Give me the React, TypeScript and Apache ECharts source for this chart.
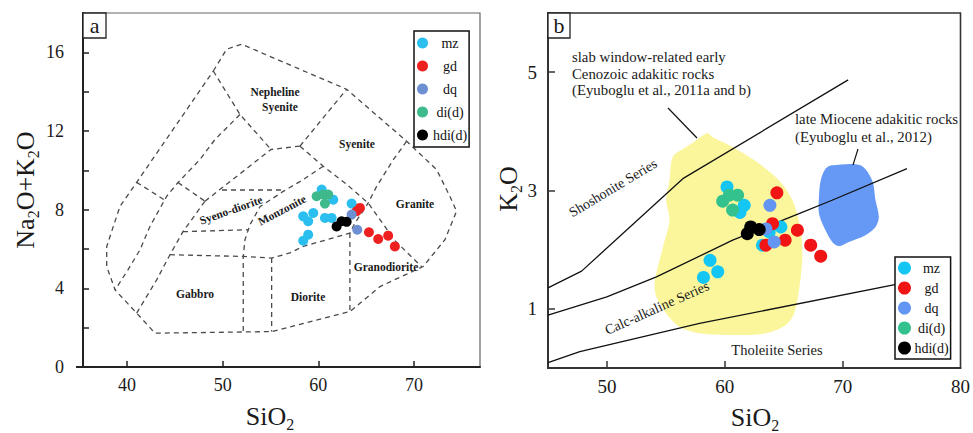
import React, { useEffect, useRef } from 'react';
import * as echarts from 'echarts';

const FONT = '"Liberation Serif", "Times New Roman", serif';
const SERIES_NAMES = ['mz', 'gd', 'dq', 'di(d)', 'hdi(d)'];

// ---------- Panel a (TAS) ----------
const aXTicks = [40, 50, 60, 70];
const aYTicks = [0, 2, 4, 6, 8, 10, 12, 14, 16];
const aYLabels = [0, 4, 8, 12, 16];

const aMz = [[60.35, 9.02], [61.56, 8.51], [59.47, 7.83], [58.42, 7.66], [58.94, 7.41], [60.69, 7.58], [61.39, 7.58], [63.48, 8.31], [58.94, 6.73], [58.42, 6.42]];
const aGd = [[64.0, 7.92], [64.35, 8.09], [65.29, 6.85], [66.26, 6.51], [67.3, 6.68], [68.0, 6.13]];
const aDq = [[63.48, 7.75], [64.07, 6.98]];
const aDi = [[59.82, 8.68], [60.51, 8.77], [61.03, 8.77], [60.69, 8.31]];
const aHdi = [[61.91, 7.15], [62.43, 7.41], [62.96, 7.38]];

const outerBoundary = [[49.02, 15.05], [50.42, 16.16], [51.99, 16.41], [62.96, 14.12], [69.23, 11.48], [72.36, 10.04], [73.75, 8.68], [74.45, 7.92], [73.23, 6.47], [70.96, 5.11], [66.44, 4.09], [63.3, 2.82], [55.12, 1.8], [42.93, 1.72], [41.01, 2.74], [38.75, 3.92], [37.88, 5.11], [37.88, 6.13], [38.57, 7.15], [39.27, 8.17], [41.01, 9.39], [49.02, 15.05]];
const innerLeftLine = [[51.81, 12.84], [49.2, 11.57], [47.63, 10.55], [45.33, 9.38], [44.15, 8.68], [42.4, 7.15], [41.36, 5.96], [40.1, 4.94], [38.75, 3.92]];
const shortLeftSeg = [[41.01, 9.39], [43.9, 8.5]];
const segE = [[45.33, 9.38], [48.15, 8.43]];
const sdLeft = [[41.01, 2.74], [43.1, 4.43], [44.49, 5.71], [45.85, 6.88], [48.15, 8.43]];
const sdTop = [[48.15, 8.43], [55.05, 11.06], [58.08, 11.23]];
const nsLeft = [[49.02, 15.05], [51.81, 12.84], [55.05, 11.06]];
const nsRight = [[58.08, 11.23], [62.96, 14.12]];
const syeniteBase = [[58.08, 11.23], [60.51, 10.21], [62.78, 9.36], [65.21, 8.34], [68.0, 6.43], [70.8, 5.1]];
const graniteLeft = [[69.23, 11.48], [67.84, 10.54], [66.1, 9.19], [65.21, 8.34]];
const sdHoriz = [[49.93, 9.0], [56.4, 9.0]];
const monzLeft = [[60.51, 10.21], [58.42, 9.53], [56.3, 8.92], [53.9, 8.15], [52.86, 7.24], [52.33, 6.47], [52.15, 5.61], [52.15, 1.78]];
const sdBottom = [[45.85, 6.88], [52.68, 6.98]];
const gabbroTop = [[44.49, 5.71], [52.15, 5.62], [55.12, 5.54], [57.03, 5.8], [58.42, 6.13], [63.3, 6.81], [63.8, 7.3], [65.21, 8.34]];
const dioriteMid = [[55.12, 5.54], [55.12, 1.8]];
const granodLeft = [[63.3, 6.81], [63.3, 2.82]];
const tasLines = [outerBoundary, innerLeftLine, shortLeftSeg, segE, sdLeft, sdTop, nsLeft, nsRight, syeniteBase, graniteLeft, sdHoriz, monzLeft, sdBottom, gabbroTop, dioriteMid, granodLeft];

// ---------- Panel b (K2O vs SiO2) ----------
const bXTicks = [50, 60, 70];
const bXLabels = [50, 60, 70, 80];
const bYTicks = [1, 3, 5];

const bMz = [[60.19, 3.06], [61.65, 2.75], [61.29, 2.63], [58.75, 1.82], [59.4, 1.625], [58.19, 1.53], [64.76, 2.385], [63.77, 2.3], [63.2, 2.076]];
const bGd = [[64.42, 2.96], [64.05, 2.44], [66.16, 2.33], [65.12, 2.16], [63.49, 2.076], [67.29, 2.076], [68.14, 1.89]];
const bDq = [[63.83, 2.75], [63.49, 2.35], [64.19, 2.13]];
const bDi = [[59.82, 2.82], [60.38, 2.92], [61.09, 2.92], [60.66, 2.67]];
const bHdi = [[61.91, 2.27], [62.2, 2.385], [62.92, 2.34]];

const shoshoniteLine = [[45, 1.355], [47.85, 1.637], [56.44, 3.2], [70.47, 4.87]];
const calcAlkLine = [[45, 0.895], [49.99, 1.203], [54.2, 1.54], [60.67, 2.16], [66.3, 2.61], [69.1, 2.835], [75.46, 3.37]];
const tholeiiteLine = [[45, 0.09], [47.7, 0.275], [57.86, 0.754], [75.5, 1.45]];

const yellowField = [[58.13, 3.93], [58.55, 3.97], [58.97, 3.9], [60.66, 3.735], [62.92, 3.455], [64.61, 3.17], [65.74, 2.835], [66.45, 2.33], [66.58, 1.88], [66.3, 1.32], [65.88, 0.92], [65.18, 0.726], [63.49, 0.586], [60.66, 0.557], [57.85, 0.586], [56.16, 0.697], [55.03, 0.923], [54.19, 1.203], [54.04, 1.43], [54.19, 1.6], [54.75, 2.047], [55.31, 2.5], [55.03, 2.835], [55.31, 3.17], [55.59, 3.566], [56.72, 3.735], [57.57, 3.85]];
const blueField = [[69.12, 3.426], [71.52, 3.426], [72.5, 3.173], [72.79, 2.835], [73.07, 2.554], [72.79, 2.385], [71.94, 2.245], [70.53, 2.13], [69.68, 2.06], [69.12, 2.13], [68.41, 2.385], [67.99, 2.61], [67.99, 2.89], [68.14, 3.173], [68.56, 3.37]];

const aColors: Record<string, string> = { mz: '#2BBFEF', gd: '#EE2020', dq: '#6E8FD2', 'di(d)': '#3DB98B', 'hdi(d)': '#000000' };
const bColors: Record<string, string> = { mz: '#14C6F4', gd: '#F01414', dq: '#6296F2', 'di(d)': '#33C28E', 'hdi(d)': '#000000' };

function scatter(name: string, data: number[][], idx: number, size: number, color: string) {
  return {
    type: 'scatter', name, data, xAxisIndex: idx, yAxisIndex: idx, symbolSize: size,
    itemStyle: { color, opacity: 1 }, z: 5, silent: true,
  };
}

function lineSeries(data: number[][], idx: number, dashed: boolean) {
  return {
    type: 'line', data, xAxisIndex: idx, yAxisIndex: idx, showSymbol: false, symbol: 'none', silent: true, z: 3,
    lineStyle: dashed ? { color: '#4a4a4a', width: 1.3, type: [5, 4] } : { color: '#111', width: 1.3 },
  };
}

function polygonSeries(points: number[][], fill: string) {
  return {
    type: 'custom', xAxisIndex: 1, yAxisIndex: 1, data: [[60, 3]], silent: true, z: 1,
    renderItem: (_p: any, api: any) => ({
      type: 'polygon',
      shape: { points: points.map((p) => api.coord(p)), smooth: 0.3 },
      style: { fill },
    }),
  };
}

function txt(x: number, y: number, text: string, fontSize: number, opts: any = {}) {
  return {
    type: 'text', x, y, rotation: opts.rotation || 0, z: 50,
    style: {
      text, fill: '#1a1a1a', fontSize, fontFamily: FONT, fontWeight: opts.bold ? 'bold' : 'normal',
      align: opts.align || 'center', verticalAlign: 'middle', textAlign: opts.align || 'center', textVerticalAlign: 'middle',
    },
  };
}

function subText(x: number, y: number, text: string, rotation: number) {
  const rich = {
    n: { fontSize: 26, fontFamily: FONT, fill: '#1a1a1a', color: '#1a1a1a', lineHeight: 32, verticalAlign: 'middle' },
    s: { fontSize: 16, fontFamily: FONT, fill: '#1a1a1a', color: '#1a1a1a', lineHeight: 32, verticalAlign: 'bottom' },
  };
  return {
    type: 'text', x, y, rotation, z: 50,
    style: { text, rich, align: 'center', verticalAlign: 'middle', textAlign: 'center', textVerticalAlign: 'middle', fill: '#1a1a1a' },
  };
}

function legendCfg(left: number, top: number, colors: Record<string, string>, size: number, gap: number, textW: number, pad: number[]) {
  return {
    left, top, orient: 'vertical', padding: pad, itemWidth: size, itemHeight: size, itemGap: gap, icon: 'circle',
    borderColor: '#111', borderWidth: 1.5, backgroundColor: '#fff', selectedMode: false, z: 20,
    data: SERIES_NAMES.map((n) => ({ name: n, itemStyle: { color: colors[n] } })),
    formatter: '{c|{name}}',
    textStyle: { rich: { c: { width: textW, align: 'center', fontSize: 14, fontFamily: FONT, color: '#111' } } },
  };
}

const axisCommon = (color: string) => ({
  type: 'value',
  axisLine: { show: true, onZero: false, lineStyle: { color, width: 2 } },
  splitLine: { show: false },
});

function buildOption() {
  const aData = [aMz, aGd, aDq, aDi, aHdi];
  const bData = [bMz, bGd, bDq, bDi, bHdi];
  return {
    animation: false,
    backgroundColor: '#fff',
    grid: [
      { left: 83, top: 13, width: 397, height: 354, show: true, borderColor: '#666', borderWidth: 1.2 },
      { left: 548, top: 13, width: 414, height: 355, show: true, borderColor: '#333', borderWidth: 1.6 },
    ],
    xAxis: [
      {
        ...axisCommon('#222'), gridIndex: 0, min: 35.4, max: 76.9,
        axisTick: { show: true, inside: true, length: 6, customValues: aXTicks, lineStyle: { color: '#222', width: 1.5 } },
        axisLabel: { customValues: aXTicks, fontSize: 18, fontFamily: FONT, color: '#1a1a1a', margin: 9 },
      },
      {
        ...axisCommon('#333'), gridIndex: 1, min: 45, max: 80,
        axisTick: { show: true, inside: true, length: 7, customValues: bXTicks, lineStyle: { color: '#333', width: 1.5 } },
        axisLabel: { customValues: bXLabels, fontSize: 19, fontFamily: FONT, color: '#1a1a1a', margin: 9 },
      },
    ],
    yAxis: [
      {
        ...axisCommon('#222'), gridIndex: 0, min: 0, max: 18,
        axisTick: { show: true, inside: true, length: 6, customValues: aYTicks, lineStyle: { color: '#222', width: 1.5 } },
        axisLabel: { customValues: aYLabels, fontSize: 18, fontFamily: FONT, color: '#1a1a1a', margin: 19 },
      },
      {
        ...axisCommon('#333'), gridIndex: 1, min: 0, max: 6,
        axisTick: { show: true, inside: true, length: 7, customValues: bYTicks, lineStyle: { color: '#333', width: 1.5 } },
        axisLabel: { customValues: bYTicks, fontSize: 19, fontFamily: FONT, color: '#1a1a1a', margin: 11 },
      },
    ],
    legend: [
      legendCfg(414, 31, aColors, 11, 9, 34, [5, 2, 5, 3]),
      legendCfg(895, 257, bColors, 13, 6, 31, [4, 2, 4, 3]),
    ],
    series: [
      ...tasLines.map((l) => lineSeries(l, 0, true)),
      polygonSeries(yellowField, '#FBF69C'),
      polygonSeries(blueField, '#6699F5'),
      lineSeries(shoshoniteLine, 1, false),
      lineSeries(calcAlkLine, 1, false),
      lineSeries(tholeiiteLine, 1, false),
      ...SERIES_NAMES.map((n, i) => scatter(n, aData[i], 0, 10, aColors[n])),
      ...SERIES_NAMES.map((n, i) => scatter(n, bData[i], 1, 13, bColors[n])),
    ],
    graphic: [
      // x-axis overhang in panel a
      { type: 'line', z: 40, shape: { x1: 76, y1: 367, x2: 84, y2: 367 }, style: { stroke: '#222', lineWidth: 2 } },
      // panel letters
      { type: 'rect', z: 45, shape: { x: 83, y: 13, width: 23, height: 25 }, style: { fill: '#fff', stroke: '#222', lineWidth: 1.3 } },
      txt(94.5, 25, 'a', 22),
      { type: 'rect', z: 45, shape: { x: 548, y: 13, width: 22, height: 25 }, style: { fill: '#fff', stroke: '#222', lineWidth: 1.3 } },
      txt(559, 25, 'b', 22),
      // axis titles
      subText(25, 190, '{n|Na}{s|2}{n|O+K}{s|2}{n|O}', Math.PI / 2),
      subText(270, 416, '{n|SiO}{s|2}', 0),
      subText(508, 189, '{n|K}{s|2}{n|O}', Math.PI / 2),
      subText(755, 417, '{n|SiO}{s|2}', 0),
      // TAS field labels
      txt(275, 92, 'Nepheline', 11.5, { bold: true }),
      txt(280, 107, 'Syenite', 11.5, { bold: true }),
      txt(357, 144, 'Syenite', 11.5, { bold: true }),
      txt(415, 204, 'Granite', 11.5, { bold: true }),
      txt(386, 267, 'Granodiorite', 11.5, { bold: true }),
      txt(308, 297, 'Diorite', 11.5, { bold: true }),
      txt(195, 294, 'Gabbro', 11.5, { bold: true }),
      txt(231, 210, 'Syeno-diorite', 11.5, { bold: true, rotation: 0.34 }),
      txt(282, 210, 'Monzonite', 11.5, { bold: true, rotation: 0.48 }),
      // panel b annotations
      txt(572, 57, 'slab window-related early', 14.8, { align: 'left' }),
      txt(572, 73.5, 'Cenozoic adakitic rocks', 14.8, { align: 'left' }),
      txt(572, 90, '(Eyuboglu et al., 2011a and b)', 14.8, { align: 'left' }),
      txt(795, 118.5, 'late Miocene adakitic rocks', 14.8, { align: 'left' }),
      txt(795, 136.5, '(Eyuboglu et al., 2012)', 14.8, { align: 'left' }),
      { type: 'line', z: 40, shape: { x1: 668, y1: 108, x2: 697, y2: 138 }, style: { stroke: '#111', lineWidth: 1.2 } },
      { type: 'line', z: 40, shape: { x1: 858, y1: 149, x2: 853, y2: 165 }, style: { stroke: '#111', lineWidth: 1.2 } },
      txt(613, 188, 'Shoshonite Series', 14, { rotation: 0.54 }),
      txt(657, 308, 'Calc-alkaline Series', 14, { rotation: 0.42 }),
      txt(777, 350, 'Tholeiite Series', 14.5),
    ],
  };
}

export default function App() {
  const ref = useRef<HTMLDivElement>(null);
  useEffect(() => {
    if (!ref.current) return;
    const chart = echarts.init(ref.current, null, { renderer: 'svg' });
    chart.setOption(buildOption() as any);
    return () => chart.dispose();
  }, []);
  return <div ref={ref} style={{ position: 'fixed', left: 0, top: 0, width: 973, height: 433, background: '#fff' }} />;
}
